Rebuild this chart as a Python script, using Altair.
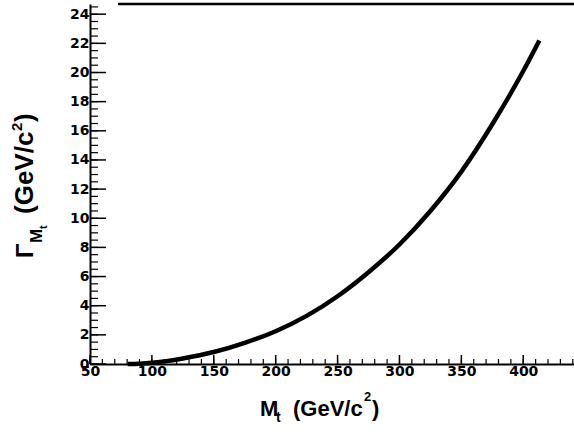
import altair as alt
import pandas as pd

# Top-quark width vs mass
mass = [80.4, 90, 100, 110, 125, 150, 175, 200, 225, 250, 275, 300, 325, 350, 375, 400, 413]
gamma = [0.0, 0.02, 0.08, 0.18, 0.38, 0.82, 1.45, 2.25, 3.3, 4.65, 6.3, 8.2, 10.5, 13.2, 16.45, 20.1, 22.2]

x_major = [50, 100, 150, 200, 250, 300, 350, 400]
x_minor = list(range(50, 441, 10))
y_major = list(range(0, 25, 2))
y_minor = [i * 0.5 for i in range(0, 50)]

x_domain = [50, 441]
y_domain = [0, 24.7]

# top frame line as seen in the scan
top_start = [72.6]
top_end = [441]
top_level = [24.7]

df = pd.DataFrame({"m": mass, "g": gamma})
xs = alt.Scale(domain=x_domain, nice=False, zero=False)
ys = alt.Scale(domain=y_domain, nice=False, zero=False)

lab_font = "DejaVu Sans"
W, H = 484, 360

curve = alt.Chart(df).mark_line(color="black", strokeWidth=4.5, interpolate="monotone").encode(
    x=alt.X("m:Q", scale=xs, axis=alt.Axis(values=x_major, ticks=False, domain=True, domainColor="black",
                                           domainWidth=2, labelFont=lab_font, labelFontWeight="bold",
                                           labelFontSize=14, labelColor="black", labelPadding=0,
                                           labelFlush=False, labelOverlap=False, grid=False, title=None)),
    y=alt.Y("g:Q", scale=ys, axis=alt.Axis(values=y_major, ticks=False, domain=True, domainColor="black",
                                           domainWidth=2, labelFont=lab_font, labelFontWeight="bold",
                                           labelFontSize=14, labelColor="black", labelPadding=1,
                                           labelOverlap=False, grid=False, title=None)),
)


def xticks(vals, length, width):
    return alt.Chart(pd.DataFrame({"v": vals})).mark_rule(color="black", strokeWidth=width).encode(
        x=alt.X("v:Q", scale=xs, axis=None), y=alt.value(H), y2=alt.value(H - length))


def yticks(vals, length, width):
    return alt.Chart(pd.DataFrame({"v": vals})).mark_rule(color="black", strokeWidth=width).encode(
        y=alt.Y("v:Q", scale=ys, axis=None), x=alt.value(0), x2=alt.value(length))


ticks = [
    xticks(x_minor, 5, 1.2),
    xticks(x_major, 9, 1.5),
    yticks(y_minor, 8, 1.2),
    yticks(y_major, 16, 1.5),
]

top_df = pd.DataFrame({"x1": top_start, "x2": top_end, "y": top_level})
top = alt.Chart(top_df).mark_rule(color="black", strokeWidth=2.5).encode(
    x=alt.X("x1:Q", scale=xs, axis=None),
    x2="x2:Q",
    y=alt.Y("y:Q", scale=ys, axis=None),
)

one = pd.DataFrame({"k": [0]})
tf = "Liberation Sans"


def txt(s, x, y, size, angle=0):
    kw = dict(text=s, font=tf, fontWeight="bold", fontSize=size, color="black",
              align="left", baseline="alphabetic")
    if angle:
        kw["angle"] = angle
    return alt.Chart(one).mark_text(**kw).encode(x=alt.value(x), y=alt.value(y))


texts = [
    # x title
    txt("M", 170, 412, 22),
    txt("t", 186, 418, 14),
    txt("(GeV/c", 203, 412, 22),
    txt("2", 274, 397, 13),
    txt(")", 282, 412, 22),
    # y title
    txt("\u0393", -57, 254, 24, 270),
    txt("M", -48, 239, 17, 270),
    txt("t", -43, 225, 11, 270),
    txt("(GeV/c", -57, 210, 26, 270),
    txt("2", -68, 127, 15, 270),
    txt(")", -57, 118, 26, 270),
]

chart = alt.layer(curve, *ticks, top, *texts).resolve_axis(
    x="independent", y="independent"
).properties(
    width=W, height=H,
    padding={"left": 90, "top": 4, "right": 0, "bottom": 70},
    autosize=alt.AutoSizeParams(type="none"),
    background="white",
).configure_view(stroke=None)

chart.save("out.html", embed_options={"renderer": "svg", "actions": False})
